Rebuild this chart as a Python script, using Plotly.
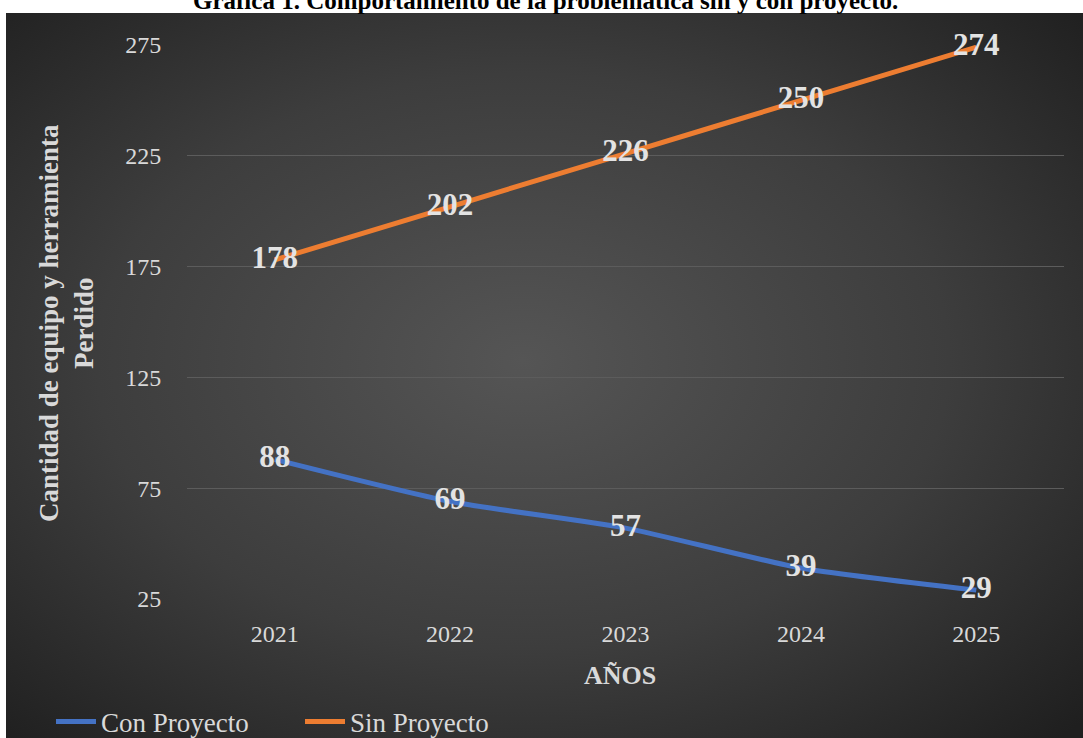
import base64
import plotly.graph_objects as go

years = ["2021", "2022", "2023", "2024", "2025"]
con_proyecto = [88, 69, 57, 39, 29]
sin_proyecto = [178, 202, 226, 250, 274]
y_ticks = [25, 75, 125, 175, 225, 275]

W, H = 1083, 738
L, R, T, B = 187, 1064, 45, 599
PW, PH = R - L, B - T

def px(x):
    return (x - L) / PW

def py(y):
    return 1 - (y - T) / PH

FONT = "Liberation Serif, Times New Roman, serif"

svg = ("<svg xmlns='http://www.w3.org/2000/svg' width='1077' height='725' viewBox='0 0 1077 725' "
       "preserveAspectRatio='none'><defs><radialGradient id='g' cx='48%' cy='48%' r='72%'>"
       "<stop offset='0' stop-color='#555555'/><stop offset='0.55' stop-color='#3d3d3d'/>"
       "<stop offset='1' stop-color='#1f1f1f'/></radialGradient></defs>"
       "<rect width='1077' height='725' fill='url(#g)'/></svg>")
src = "data:image/svg+xml;base64," + base64.b64encode(svg.encode()).decode()

fig = go.Figure()
fig.add_trace(go.Scatter(
    x=years, y=con_proyecto, name="Con Proyecto", mode="lines+text",
    line=dict(color="#4472C4", width=5, shape="spline", smoothing=0.6),
    text=[str(v) for v in con_proyecto], textposition="middle center",
    textfont=dict(family=FONT, size=31, color="#e3e3e3", weight="bold"),
    cliponaxis=False,
))
fig.add_trace(go.Scatter(
    x=years, y=sin_proyecto, name="Sin Proyecto", mode="lines+text",
    line=dict(color="#ED7D31", width=5, shape="spline", smoothing=0.6),
    text=[str(v) for v in sin_proyecto], textposition="middle center",
    textfont=dict(family=FONT, size=31, color="#e3e3e3", weight="bold"),
    cliponaxis=False,
))

fig.update_layout(
    width=W, height=H,
    margin=dict(l=L, r=W - R, t=T, b=H - B, autoexpand=False),
    paper_bgcolor="white",
    plot_bgcolor="rgba(0,0,0,0)",
    showlegend=True,
    legend=dict(orientation="h", x=px(51), xanchor="left", y=py(722), yanchor="middle",
                bgcolor="rgba(0,0,0,0)", font=dict(family=FONT, size=27, color="#d9d9d9"),
                itemwidth=40, entrywidth=194, entrywidthmode="pixels", tracegroupgap=0),
    images=[dict(source=src, xref="paper", yref="paper", x=px(6), y=py(13),
                 sizex=(1083 - 6) / PW, sizey=(738 - 13) / PH,
                 xanchor="left", yanchor="top", sizing="stretch", layer="below")],
    xaxis=dict(type="category", range=[-0.5, 4.5], showgrid=False, zeroline=False,
               showline=False, ticks="outside", ticklen=13, tickcolor="rgba(0,0,0,0)",
               tickfont=dict(family=FONT, size=24, color="#d9d9d9")),
    yaxis=dict(range=[25, 275], tickvals=y_ticks, showgrid=True, gridcolor="#5c5c5c",
               gridwidth=1, zeroline=False, showline=False, ticks="outside", ticklen=20,
               tickcolor="rgba(0,0,0,0)",
               tickfont=dict(family=FONT, size=24, color="#d9d9d9")),
    annotations=[
        dict(text="<b>Gráfica 1. Comportamiento de la problemática sin y con proyecto.</b>",
             xref="paper", yref="paper", x=px(545), y=py(1), xanchor="center", yanchor="middle",
             showarrow=False, font=dict(family=FONT, size=25, color="black")),
        dict(text="<b>Cantidad de equipo y herramienta<br>Perdido</b>",
             xref="paper", yref="paper", x=px(66), y=py(323), xanchor="center", yanchor="middle",
             textangle=-90, showarrow=False,
             font=dict(family=FONT, size=27, color="#d9d9d9")),
        dict(text="<b>AÑOS</b>", xref="paper", yref="paper", x=px(620), y=py(675),
             xanchor="center", yanchor="middle", showarrow=False,
             font=dict(family=FONT, size=26, color="#d9d9d9")),
    ],
)

fig.write_html("out.html")
